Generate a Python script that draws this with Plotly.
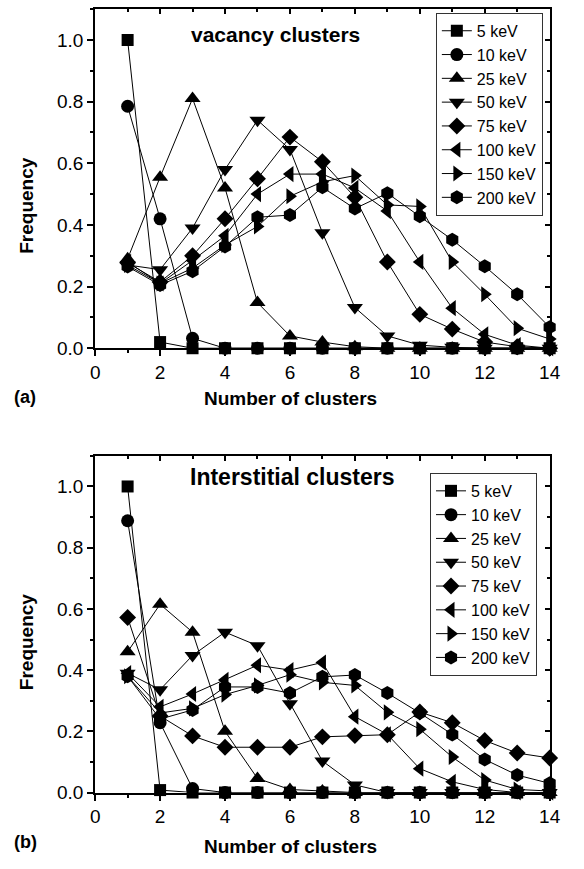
import plotly.graph_objects as go

x_clusters = list(range(1, 15))
energies = ["5 keV", "10 keV", "25 keV", "50 keV", "75 keV", "100 keV", "150 keV", "200 keV"]
symbols = ["square", "circle", "triangle-up", "triangle-down", "diamond",
           "triangle-left", "triangle-right", "hexagon"]
sizes = [12, 13, 14, 14, 13, 14, 14, 14]

# (a) vacancy clusters
vac_5 = [1.0, 0.02, 0.0, 0.0, 0.0, 0.0, 0.0, 0.0, 0.0, 0.0, 0.0, 0.0, 0.0, 0.0]
vac_10 = [0.785, 0.42, 0.032, 0.0, 0.0, 0.0, 0.0, 0.0, 0.0, 0.0, 0.0, 0.0, 0.0, 0.0]
vac_25 = [0.29, 0.555, 0.81, 0.52, 0.148, 0.04, 0.02, 0.005, 0.0, 0.0, 0.0, 0.0, 0.0, 0.0]
vac_50 = [0.27, 0.255, 0.39, 0.58, 0.74, 0.645, 0.375, 0.132, 0.04, 0.01, 0.003, 0.0, 0.0, 0.0]
vac_75 = [0.277, 0.215, 0.30, 0.42, 0.55, 0.685, 0.605, 0.49, 0.28, 0.11, 0.062, 0.02, 0.005, 0.0]
vac_100 = [0.28, 0.21, 0.285, 0.365, 0.50, 0.565, 0.565, 0.52, 0.445, 0.28, 0.13, 0.045, 0.01, 0.0]
vac_150 = [0.27, 0.21, 0.26, 0.335, 0.395, 0.493, 0.54, 0.56, 0.465, 0.46, 0.28, 0.175, 0.065, 0.03]
vac_200 = [0.265, 0.205, 0.25, 0.33, 0.425, 0.432, 0.522, 0.453, 0.503, 0.428, 0.352, 0.266, 0.175, 0.068]

# (b) interstitial clusters
int_5 = [1.0, 0.008, 0.0, 0.0, 0.0, 0.0, 0.0, 0.0, 0.0, 0.0, 0.0, 0.0, 0.0, 0.0]
int_10 = [0.888, 0.228, 0.013, 0.0, 0.0, 0.0, 0.0, 0.0, 0.0, 0.0, 0.0, 0.0, 0.0, 0.0]
int_25 = [0.46, 0.615, 0.524, 0.20, 0.046, 0.01, 0.005, 0.0, 0.0, 0.0, 0.0, 0.0, 0.0, 0.0]
int_50 = [0.39, 0.336, 0.448, 0.524, 0.48, 0.29, 0.103, 0.025, 0.0, 0.0, 0.0, 0.0, 0.0, 0.0]
int_75 = [0.572, 0.25, 0.185, 0.148, 0.148, 0.148, 0.182, 0.186, 0.189, 0.263, 0.228, 0.17, 0.129, 0.113]
int_100 = [0.39, 0.28, 0.322, 0.368, 0.416, 0.40, 0.425, 0.248, 0.19, 0.078, 0.035, 0.01, 0.0, 0.0]
int_150 = [0.38, 0.26, 0.275, 0.32, 0.35, 0.385, 0.36, 0.35, 0.262, 0.207, 0.116, 0.041, 0.01, 0.005]
int_200 = [0.38, 0.24, 0.27, 0.345, 0.345, 0.325, 0.378, 0.384, 0.325, 0.26, 0.19, 0.108, 0.057, 0.03]

vac_series = [vac_5, vac_10, vac_25, vac_50, vac_75, vac_100, vac_150, vac_200]
int_series = [int_5, int_10, int_25, int_50, int_75, int_100, int_150, int_200]

x_ticks = list(range(0, 15, 2))
y_ticks = [0.0, 0.2, 0.4, 0.6, 0.8, 1.0]

FONT = "Liberation Sans, Arial, sans-serif"
W, H = 584, 869

fig = go.Figure()

for i, (name, sym, sz) in enumerate(zip(energies, symbols, sizes)):
    fig.add_trace(go.Scatter(
        x=x_clusters, y=vac_series[i], name=name, mode="lines+markers",
        line=dict(color="black", width=1),
        marker=dict(symbol=sym, size=sz, color="black"),
        cliponaxis=False, xaxis="x", yaxis="y", legend="legend"))
for i, (name, sym, sz) in enumerate(zip(energies, symbols, sizes)):
    fig.add_trace(go.Scatter(
        x=x_clusters, y=int_series[i], name=name, mode="lines+markers",
        line=dict(color="black", width=1),
        marker=dict(symbol=sym, size=sz, color="black"),
        cliponaxis=False, xaxis="x2", yaxis="y2", legend="legend2"))

# empty traces so that mirror (inward tick) axes are drawn
for xa, ya in (("x3", "y3"), ("x4", "y4")):
    fig.add_trace(go.Scatter(x=[], y=[], xaxis=xa, yaxis=ya, showlegend=False))

xd = [92.7 / W, 560 / W]
yd_top = [1 - 352.7 / H, 1 - 9.3 / H]
yd_bot = [1 - 802.7 / H, 1 - 461.7 / H]

def xaxis_main(anchor, domain):
    return dict(domain=domain, anchor=anchor, range=[0, 14], tickvals=x_ticks,
                ticks="outside", ticklen=6, tickwidth=1.5, tickcolor="black",
                minor=dict(ticks="outside", ticklen=3, dtick=1, tickwidth=1.5, tickcolor="black"),
                showline=True, linewidth=2, linecolor="black", mirror=True,
                showgrid=False, zeroline=False,
                tickfont=dict(family=FONT, size=19, color="black"))

def yaxis_main(anchor, domain):
    return dict(domain=domain, anchor=anchor, range=[0, 1.1], tickvals=y_ticks,
                tickformat=".1f",
                ticks="outside", ticklen=6, tickwidth=1.5, tickcolor="black",
                minor=dict(ticks="outside", ticklen=3, dtick=0.1, tickwidth=1.5, tickcolor="black"),
                showline=True, linewidth=2, linecolor="black", mirror=True,
                showgrid=False, zeroline=False,
                tickfont=dict(family=FONT, size=19, color="black"))

def xaxis_mirror(over, anchor):
    return dict(overlaying=over, anchor=anchor, side="top", range=[0, 14], tickvals=x_ticks,
                ticks="inside", ticklen=5, tickwidth=1.5, tickcolor="black",
                minor=dict(ticks="inside", ticklen=3, dtick=1, tickwidth=1.5, tickcolor="black"),
                showticklabels=False, showline=False, showgrid=False, zeroline=False)

def yaxis_mirror(over, anchor):
    return dict(overlaying=over, anchor=anchor, side="right", range=[0, 1.1], tickvals=y_ticks,
                ticks="inside", ticklen=5, tickwidth=1.5, tickcolor="black",
                minor=dict(ticks="inside", ticklen=3, dtick=0.1, tickwidth=1.5, tickcolor="black"),
                showticklabels=False, showline=False, showgrid=False, zeroline=False)

legend_common = dict(font=dict(family=FONT, size=16, color="black"),
                     bgcolor="white", bordercolor="#333333", borderwidth=1,
                     xanchor="right", yanchor="top", tracegroupgap=0,
                     itemsizing="trace")

def px_x(px):
    return px / W

def px_y(px):
    return 1 - px / H

annotations = [
    dict(text="<b>vacancy clusters</b>", x=px_x(278), y=px_y(35), font=dict(size=21)),
    dict(text="<b>Interstitial clusters</b>", x=px_x(296), y=px_y(483), font=dict(size=23)),
    dict(text="<b>Number of clusters</b>", x=px_x(294), y=px_y(404), font=dict(size=19)),
    dict(text="<b>Number of clusters</b>", x=px_x(294), y=px_y(857), font=dict(size=19)),
    dict(text="<b>(a)</b>", x=px_x(21), y=px_y(402), font=dict(size=18)),
    dict(text="<b>(b)</b>", x=px_x(21), y=px_y(853), font=dict(size=18)),
    dict(text="<b>Frequency</b>", x=px_x(22), y=px_y(208), textangle=-90, font=dict(size=19)),
    dict(text="<b>Frequency</b>", x=px_x(22), y=px_y(650), textangle=-90, font=dict(size=19)),
]
for a in annotations:
    a.update(xref="paper", yref="paper", showarrow=False, xanchor="center", yanchor="middle")
    a["font"].update(family=FONT, color="black")

fig.update_layout(
    width=W, height=H, margin=dict(l=0, r=0, t=0, b=0),
    paper_bgcolor="white", plot_bgcolor="white",
    font=dict(family=FONT, color="black"),
    xaxis=xaxis_main("y", xd), yaxis=yaxis_main("x", yd_top),
    xaxis2=xaxis_main("y2", xd), yaxis2=yaxis_main("x2", yd_bot),
    xaxis3=xaxis_mirror("x", "y"), yaxis3=yaxis_mirror("y", "x"),
    xaxis4=xaxis_mirror("x2", "y2"), yaxis4=yaxis_mirror("y2", "x2"),
    legend=dict(x=px_x(553), y=px_y(13), **legend_common),
    legend2=dict(x=px_x(547), y=px_y(479), **legend_common),
    annotations=annotations,
    showlegend=True,
)

fig.write_html("out.html")
